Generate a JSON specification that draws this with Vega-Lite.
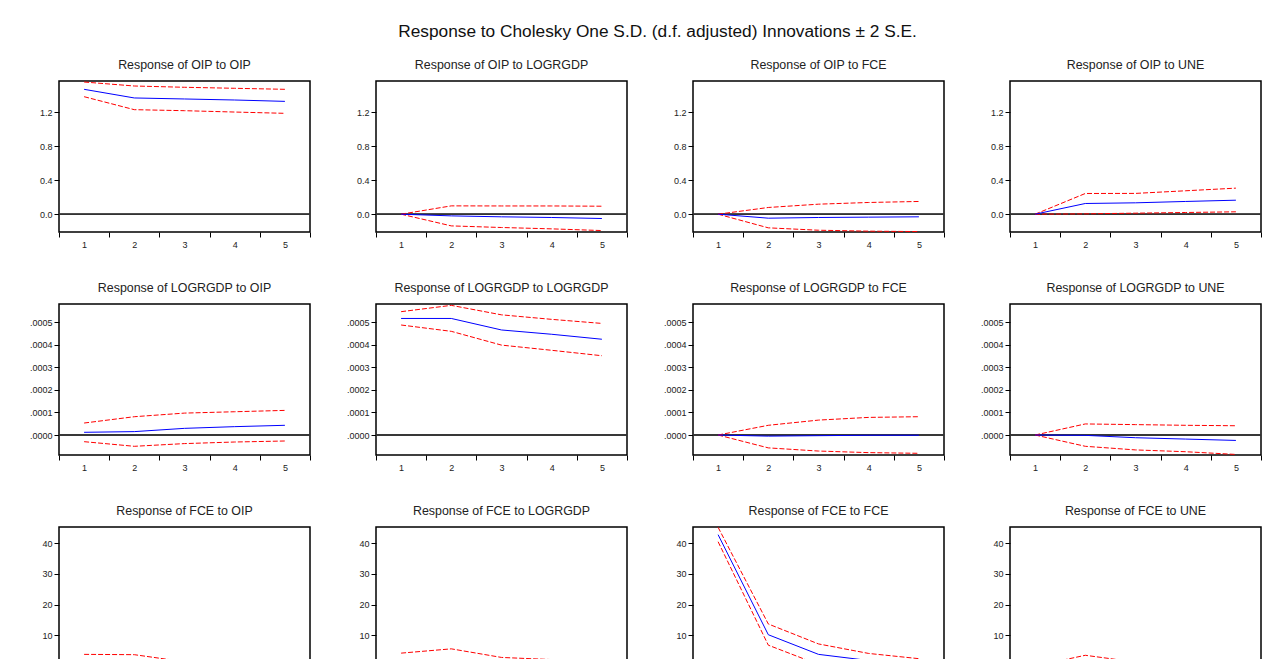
{
  "$schema": "https://vega.github.io/schema/vega-lite/v6.json",
  "background": "#ffffff",
  "padding": {"left": 28, "top": 22, "right": 10, "bottom": 10},
  "title": {"text": "Response to Cholesky One S.D. (d.f. adjusted) Innovations ± 2 S.E.", "fontSize": 17.3, "font": "Liberation Sans", "fontWeight": "normal", "color": "#111111", "offset": 18, "anchor": "middle", "dx": 12},
  "datasets": {
    "irf": [
      {"r": "OIP", "s": "OIP", "h": 1, "v": 1.472, "lo": 1.385, "hi": 1.558},
      {"r": "OIP", "s": "OIP", "h": 2, "v": 1.370, "lo": 1.232, "hi": 1.511},
      {"r": "OIP", "s": "OIP", "h": 3, "v": 1.358, "lo": 1.220, "hi": 1.496},
      {"r": "OIP", "s": "OIP", "h": 4, "v": 1.346, "lo": 1.204, "hi": 1.484},
      {"r": "OIP", "s": "OIP", "h": 5, "v": 1.330, "lo": 1.189, "hi": 1.472},
      {"r": "OIP", "s": "LOGRGDP", "h": 1, "v": 0, "lo": 0, "hi": 0},
      {"r": "OIP", "s": "LOGRGDP", "h": 2, "v": -0.020, "lo": -0.138, "hi": 0.098},
      {"r": "OIP", "s": "LOGRGDP", "h": 3, "v": -0.031, "lo": -0.157, "hi": 0.097},
      {"r": "OIP", "s": "LOGRGDP", "h": 4, "v": -0.039, "lo": -0.173, "hi": 0.097},
      {"r": "OIP", "s": "LOGRGDP", "h": 5, "v": -0.051, "lo": -0.193, "hi": 0.094},
      {"r": "OIP", "s": "FCE", "h": 1, "v": 0, "lo": 0, "hi": 0},
      {"r": "OIP", "s": "FCE", "h": 2, "v": -0.047, "lo": -0.161, "hi": 0.079},
      {"r": "OIP", "s": "FCE", "h": 3, "v": -0.039, "lo": -0.189, "hi": 0.118},
      {"r": "OIP", "s": "FCE", "h": 4, "v": -0.035, "lo": -0.200, "hi": 0.138},
      {"r": "OIP", "s": "FCE", "h": 5, "v": -0.031, "lo": -0.205, "hi": 0.150},
      {"r": "OIP", "s": "UNE", "h": 1, "v": 0, "lo": 0, "hi": 0},
      {"r": "OIP", "s": "UNE", "h": 2, "v": 0.126, "lo": 0.004, "hi": 0.244},
      {"r": "OIP", "s": "UNE", "h": 3, "v": 0.134, "lo": 0.012, "hi": 0.245},
      {"r": "OIP", "s": "UNE", "h": 4, "v": 0.150, "lo": 0.020, "hi": 0.276},
      {"r": "OIP", "s": "UNE", "h": 5, "v": 0.165, "lo": 0.028, "hi": 0.307},
      {"r": "LOGRGDP", "s": "OIP", "h": 1, "v": 0.0000120, "lo": -0.0000295, "hi": 0.0000530},
      {"r": "LOGRGDP", "s": "OIP", "h": 2, "v": 0.0000150, "lo": -0.0000500, "hi": 0.0000810},
      {"r": "LOGRGDP", "s": "OIP", "h": 3, "v": 0.0000295, "lo": -0.0000380, "hi": 0.0000970},
      {"r": "LOGRGDP", "s": "OIP", "h": 4, "v": 0.0000370, "lo": -0.0000310, "hi": 0.0001030},
      {"r": "LOGRGDP", "s": "OIP", "h": 5, "v": 0.0000430, "lo": -0.0000265, "hi": 0.0001090},
      {"r": "LOGRGDP", "s": "LOGRGDP", "h": 1, "v": 0.000516, "lo": 0.000487, "hi": 0.000546},
      {"r": "LOGRGDP", "s": "LOGRGDP", "h": 2, "v": 0.000516, "lo": 0.000459, "hi": 0.000574},
      {"r": "LOGRGDP", "s": "LOGRGDP", "h": 3, "v": 0.000465, "lo": 0.000398, "hi": 0.000532},
      {"r": "LOGRGDP", "s": "LOGRGDP", "h": 4, "v": 0.000446, "lo": 0.000375, "hi": 0.000512},
      {"r": "LOGRGDP", "s": "LOGRGDP", "h": 5, "v": 0.000424, "lo": 0.000351, "hi": 0.000494},
      {"r": "LOGRGDP", "s": "FCE", "h": 1, "v": 0, "lo": 0, "hi": 0},
      {"r": "LOGRGDP", "s": "FCE", "h": 2, "v": -0.000005, "lo": -0.000057, "hi": 0.000043},
      {"r": "LOGRGDP", "s": "FCE", "h": 3, "v": -0.000003, "lo": -0.000071, "hi": 0.000066},
      {"r": "LOGRGDP", "s": "FCE", "h": 4, "v": -0.000001, "lo": -0.000078, "hi": 0.000078},
      {"r": "LOGRGDP", "s": "FCE", "h": 5, "v": -0.000001, "lo": -0.000081, "hi": 0.000081},
      {"r": "LOGRGDP", "s": "UNE", "h": 1, "v": 0, "lo": 0, "hi": 0},
      {"r": "LOGRGDP", "s": "UNE", "h": 2, "v": -0.0000015, "lo": -0.000050, "hi": 0.000049},
      {"r": "LOGRGDP", "s": "UNE", "h": 3, "v": -0.000012, "lo": -0.000066, "hi": 0.000046},
      {"r": "LOGRGDP", "s": "UNE", "h": 4, "v": -0.000018, "lo": -0.000074, "hi": 0.000043},
      {"r": "LOGRGDP", "s": "UNE", "h": 5, "v": -0.000024, "lo": -0.000086, "hi": 0.000041},
      {"r": "FCE", "s": "OIP", "h": 1, "v": 0.4, "lo": -3.0, "hi": 3.8},
      {"r": "FCE", "s": "OIP", "h": 2, "v": 0.3, "lo": -3.1, "hi": 3.7},
      {"r": "FCE", "s": "OIP", "h": 3, "v": -0.2, "lo": -3.0, "hi": 1.4},
      {"r": "FCE", "s": "OIP", "h": 4, "v": -0.3, "lo": -2.8, "hi": 1.3},
      {"r": "FCE", "s": "OIP", "h": 5, "v": -0.3, "lo": -2.6, "hi": 1.2},
      {"r": "FCE", "s": "LOGRGDP", "h": 1, "v": 1.0, "lo": -2.2, "hi": 4.2},
      {"r": "FCE", "s": "LOGRGDP", "h": 2, "v": 1.5, "lo": -2.6, "hi": 5.6},
      {"r": "FCE", "s": "LOGRGDP", "h": 3, "v": 0.3, "lo": -2.1, "hi": 2.8},
      {"r": "FCE", "s": "LOGRGDP", "h": 4, "v": 0.0, "lo": -2.0, "hi": 2.1},
      {"r": "FCE", "s": "LOGRGDP", "h": 5, "v": 0.0, "lo": -1.8, "hi": 1.8},
      {"r": "FCE", "s": "FCE", "h": 1, "v": 42.8, "lo": 40.5, "hi": 45.2},
      {"r": "FCE", "s": "FCE", "h": 2, "v": 10.2, "lo": 6.8, "hi": 13.7},
      {"r": "FCE", "s": "FCE", "h": 3, "v": 3.8, "lo": 0.5, "hi": 7.2},
      {"r": "FCE", "s": "FCE", "h": 4, "v": 1.8, "lo": -0.5, "hi": 4.1},
      {"r": "FCE", "s": "FCE", "h": 5, "v": 1.0, "lo": -0.6, "hi": 2.4},
      {"r": "FCE", "s": "UNE", "h": 1, "v": 0, "lo": 0, "hi": 0},
      {"r": "FCE", "s": "UNE", "h": 2, "v": 0.8, "lo": -2.0, "hi": 3.5},
      {"r": "FCE", "s": "UNE", "h": 3, "v": 0.3, "lo": -1.2, "hi": 1.3},
      {"r": "FCE", "s": "UNE", "h": 4, "v": 0.2, "lo": -1.4, "hi": 1.8},
      {"r": "FCE", "s": "UNE", "h": 5, "v": 0.2, "lo": -1.5, "hi": 2.0}
    ]
  },
  "data": {"name": "irf"},
  "columns": 4,
  "spacing": {"row": 30, "column": 33},
  "concat": [
    {"title": "Response of OIP to OIP", "width": 251, "height": 151,
     "transform": [{"filter": "datum.r == 'OIP' && datum.s == 'OIP'"}],
     "encoding": {"x": {"field": "h", "type": "quantitative", "title": null, "scale": {"domain": [0.5, 5.5], "nice": false, "zero": false}, "axis": {"values": [0.5, 1, 1.5, 2, 2.5, 3, 3.5, 4, 4.5, 5, 5.5], "tickCount": 20, "labelExpr": "datum.value % 1 == 0 ? '' + datum.value : ''", "tickOpacity": {"condition": {"test": "datum.value % 1 == 0", "value": 0}, "value": 1}, "labelPadding": 3}}},
     "layer": [
       {"mark": {"type": "rule", "color": "#333333", "strokeWidth": 1}, "encoding": {"x": {"datum": 0.5}, "x2": {"datum": 5.5}, "y": {"datum": 0, "type": "quantitative", "title": null, "scale": {"domain": [-0.21, 1.57], "nice": false, "zero": false}, "axis": {"values": [0, 0.4, 0.8, 1.2], "tickCount": 20, "labelOverlap": false, "format": ".1f"}}}},
       {"mark": {"type": "line", "color": "#ff0000", "strokeWidth": 1, "strokeDash": [5, 2], "clip": true}, "encoding": {"y": {"field": "hi", "type": "quantitative", "title": null}}},
       {"mark": {"type": "line", "color": "#ff0000", "strokeWidth": 1, "strokeDash": [5, 2], "clip": true}, "encoding": {"y": {"field": "lo", "type": "quantitative", "title": null}}},
       {"mark": {"type": "line", "color": "#0000ff", "strokeWidth": 1, "clip": true}, "encoding": {"y": {"field": "v", "type": "quantitative", "title": null}}}
     ]},
    {"title": "Response of OIP to LOGRGDP", "width": 251, "height": 151,
     "transform": [{"filter": "datum.r == 'OIP' && datum.s == 'LOGRGDP'"}],
     "encoding": {"x": {"field": "h", "type": "quantitative", "title": null, "scale": {"domain": [0.5, 5.5], "nice": false, "zero": false}, "axis": {"values": [0.5, 1, 1.5, 2, 2.5, 3, 3.5, 4, 4.5, 5, 5.5], "tickCount": 20, "labelExpr": "datum.value % 1 == 0 ? '' + datum.value : ''", "tickOpacity": {"condition": {"test": "datum.value % 1 == 0", "value": 0}, "value": 1}, "labelPadding": 3}}},
     "layer": [
       {"mark": {"type": "rule", "color": "#333333", "strokeWidth": 1}, "encoding": {"x": {"datum": 0.5}, "x2": {"datum": 5.5}, "y": {"datum": 0, "type": "quantitative", "title": null, "scale": {"domain": [-0.21, 1.57], "nice": false, "zero": false}, "axis": {"values": [0, 0.4, 0.8, 1.2], "tickCount": 20, "labelOverlap": false, "format": ".1f"}}}},
       {"mark": {"type": "line", "color": "#ff0000", "strokeWidth": 1, "strokeDash": [5, 2], "clip": true}, "encoding": {"y": {"field": "hi", "type": "quantitative", "title": null}}},
       {"mark": {"type": "line", "color": "#ff0000", "strokeWidth": 1, "strokeDash": [5, 2], "clip": true}, "encoding": {"y": {"field": "lo", "type": "quantitative", "title": null}}},
       {"mark": {"type": "line", "color": "#0000ff", "strokeWidth": 1, "clip": true}, "encoding": {"y": {"field": "v", "type": "quantitative", "title": null}}}
     ]},
    {"title": "Response of OIP to FCE", "width": 251, "height": 151,
     "transform": [{"filter": "datum.r == 'OIP' && datum.s == 'FCE'"}],
     "encoding": {"x": {"field": "h", "type": "quantitative", "title": null, "scale": {"domain": [0.5, 5.5], "nice": false, "zero": false}, "axis": {"values": [0.5, 1, 1.5, 2, 2.5, 3, 3.5, 4, 4.5, 5, 5.5], "tickCount": 20, "labelExpr": "datum.value % 1 == 0 ? '' + datum.value : ''", "tickOpacity": {"condition": {"test": "datum.value % 1 == 0", "value": 0}, "value": 1}, "labelPadding": 3}}},
     "layer": [
       {"mark": {"type": "rule", "color": "#333333", "strokeWidth": 1}, "encoding": {"x": {"datum": 0.5}, "x2": {"datum": 5.5}, "y": {"datum": 0, "type": "quantitative", "title": null, "scale": {"domain": [-0.21, 1.57], "nice": false, "zero": false}, "axis": {"values": [0, 0.4, 0.8, 1.2], "tickCount": 20, "labelOverlap": false, "format": ".1f"}}}},
       {"mark": {"type": "line", "color": "#ff0000", "strokeWidth": 1, "strokeDash": [5, 2], "clip": true}, "encoding": {"y": {"field": "hi", "type": "quantitative", "title": null}}},
       {"mark": {"type": "line", "color": "#ff0000", "strokeWidth": 1, "strokeDash": [5, 2], "clip": true}, "encoding": {"y": {"field": "lo", "type": "quantitative", "title": null}}},
       {"mark": {"type": "line", "color": "#0000ff", "strokeWidth": 1, "clip": true}, "encoding": {"y": {"field": "v", "type": "quantitative", "title": null}}}
     ]},
    {"title": "Response of OIP to UNE", "width": 251, "height": 151,
     "transform": [{"filter": "datum.r == 'OIP' && datum.s == 'UNE'"}],
     "encoding": {"x": {"field": "h", "type": "quantitative", "title": null, "scale": {"domain": [0.5, 5.5], "nice": false, "zero": false}, "axis": {"values": [0.5, 1, 1.5, 2, 2.5, 3, 3.5, 4, 4.5, 5, 5.5], "tickCount": 20, "labelExpr": "datum.value % 1 == 0 ? '' + datum.value : ''", "tickOpacity": {"condition": {"test": "datum.value % 1 == 0", "value": 0}, "value": 1}, "labelPadding": 3}}},
     "layer": [
       {"mark": {"type": "rule", "color": "#333333", "strokeWidth": 1}, "encoding": {"x": {"datum": 0.5}, "x2": {"datum": 5.5}, "y": {"datum": 0, "type": "quantitative", "title": null, "scale": {"domain": [-0.21, 1.57], "nice": false, "zero": false}, "axis": {"values": [0, 0.4, 0.8, 1.2], "tickCount": 20, "labelOverlap": false, "format": ".1f"}}}},
       {"mark": {"type": "line", "color": "#ff0000", "strokeWidth": 1, "strokeDash": [5, 2], "clip": true}, "encoding": {"y": {"field": "hi", "type": "quantitative", "title": null}}},
       {"mark": {"type": "line", "color": "#ff0000", "strokeWidth": 1, "strokeDash": [5, 2], "clip": true}, "encoding": {"y": {"field": "lo", "type": "quantitative", "title": null}}},
       {"mark": {"type": "line", "color": "#0000ff", "strokeWidth": 1, "clip": true}, "encoding": {"y": {"field": "v", "type": "quantitative", "title": null}}}
     ]},
    {"title": "Response of LOGRGDP to OIP", "width": 251, "height": 151,
     "transform": [{"filter": "datum.r == 'LOGRGDP' && datum.s == 'OIP'"}],
     "encoding": {"x": {"field": "h", "type": "quantitative", "title": null, "scale": {"domain": [0.5, 5.5], "nice": false, "zero": false}, "axis": {"values": [0.5, 1, 1.5, 2, 2.5, 3, 3.5, 4, 4.5, 5, 5.5], "tickCount": 20, "labelExpr": "datum.value % 1 == 0 ? '' + datum.value : ''", "tickOpacity": {"condition": {"test": "datum.value % 1 == 0", "value": 0}, "value": 1}, "labelPadding": 3}}},
     "layer": [
       {"mark": {"type": "rule", "color": "#333333", "strokeWidth": 1}, "encoding": {"x": {"datum": 0.5}, "x2": {"datum": 5.5}, "y": {"datum": 0, "type": "quantitative", "title": null, "scale": {"domain": [-0.0000885, 0.00058], "nice": false, "zero": false}, "axis": {"values": [0, 0.0001, 0.0002, 0.0003, 0.0004, 0.0005], "tickCount": 20, "labelOverlap": false, "labelExpr": "substring(format(datum.value, '.4f'), 1)"}}}},
       {"mark": {"type": "line", "color": "#ff0000", "strokeWidth": 1, "strokeDash": [5, 2], "clip": true}, "encoding": {"y": {"field": "hi", "type": "quantitative", "title": null}}},
       {"mark": {"type": "line", "color": "#ff0000", "strokeWidth": 1, "strokeDash": [5, 2], "clip": true}, "encoding": {"y": {"field": "lo", "type": "quantitative", "title": null}}},
       {"mark": {"type": "line", "color": "#0000ff", "strokeWidth": 1, "clip": true}, "encoding": {"y": {"field": "v", "type": "quantitative", "title": null}}}
     ]},
    {"title": "Response of LOGRGDP to LOGRGDP", "width": 251, "height": 151,
     "transform": [{"filter": "datum.r == 'LOGRGDP' && datum.s == 'LOGRGDP'"}],
     "encoding": {"x": {"field": "h", "type": "quantitative", "title": null, "scale": {"domain": [0.5, 5.5], "nice": false, "zero": false}, "axis": {"values": [0.5, 1, 1.5, 2, 2.5, 3, 3.5, 4, 4.5, 5, 5.5], "tickCount": 20, "labelExpr": "datum.value % 1 == 0 ? '' + datum.value : ''", "tickOpacity": {"condition": {"test": "datum.value % 1 == 0", "value": 0}, "value": 1}, "labelPadding": 3}}},
     "layer": [
       {"mark": {"type": "rule", "color": "#333333", "strokeWidth": 1}, "encoding": {"x": {"datum": 0.5}, "x2": {"datum": 5.5}, "y": {"datum": 0, "type": "quantitative", "title": null, "scale": {"domain": [-0.0000885, 0.00058], "nice": false, "zero": false}, "axis": {"values": [0, 0.0001, 0.0002, 0.0003, 0.0004, 0.0005], "tickCount": 20, "labelOverlap": false, "labelExpr": "substring(format(datum.value, '.4f'), 1)"}}}},
       {"mark": {"type": "line", "color": "#ff0000", "strokeWidth": 1, "strokeDash": [5, 2], "clip": true}, "encoding": {"y": {"field": "hi", "type": "quantitative", "title": null}}},
       {"mark": {"type": "line", "color": "#ff0000", "strokeWidth": 1, "strokeDash": [5, 2], "clip": true}, "encoding": {"y": {"field": "lo", "type": "quantitative", "title": null}}},
       {"mark": {"type": "line", "color": "#0000ff", "strokeWidth": 1, "clip": true}, "encoding": {"y": {"field": "v", "type": "quantitative", "title": null}}}
     ]},
    {"title": "Response of LOGRGDP to FCE", "width": 251, "height": 151,
     "transform": [{"filter": "datum.r == 'LOGRGDP' && datum.s == 'FCE'"}],
     "encoding": {"x": {"field": "h", "type": "quantitative", "title": null, "scale": {"domain": [0.5, 5.5], "nice": false, "zero": false}, "axis": {"values": [0.5, 1, 1.5, 2, 2.5, 3, 3.5, 4, 4.5, 5, 5.5], "tickCount": 20, "labelExpr": "datum.value % 1 == 0 ? '' + datum.value : ''", "tickOpacity": {"condition": {"test": "datum.value % 1 == 0", "value": 0}, "value": 1}, "labelPadding": 3}}},
     "layer": [
       {"mark": {"type": "rule", "color": "#333333", "strokeWidth": 1}, "encoding": {"x": {"datum": 0.5}, "x2": {"datum": 5.5}, "y": {"datum": 0, "type": "quantitative", "title": null, "scale": {"domain": [-0.0000885, 0.00058], "nice": false, "zero": false}, "axis": {"values": [0, 0.0001, 0.0002, 0.0003, 0.0004, 0.0005], "tickCount": 20, "labelOverlap": false, "labelExpr": "substring(format(datum.value, '.4f'), 1)"}}}},
       {"mark": {"type": "line", "color": "#ff0000", "strokeWidth": 1, "strokeDash": [5, 2], "clip": true}, "encoding": {"y": {"field": "hi", "type": "quantitative", "title": null}}},
       {"mark": {"type": "line", "color": "#ff0000", "strokeWidth": 1, "strokeDash": [5, 2], "clip": true}, "encoding": {"y": {"field": "lo", "type": "quantitative", "title": null}}},
       {"mark": {"type": "line", "color": "#0000ff", "strokeWidth": 1, "clip": true}, "encoding": {"y": {"field": "v", "type": "quantitative", "title": null}}}
     ]},
    {"title": "Response of LOGRGDP to UNE", "width": 251, "height": 151,
     "transform": [{"filter": "datum.r == 'LOGRGDP' && datum.s == 'UNE'"}],
     "encoding": {"x": {"field": "h", "type": "quantitative", "title": null, "scale": {"domain": [0.5, 5.5], "nice": false, "zero": false}, "axis": {"values": [0.5, 1, 1.5, 2, 2.5, 3, 3.5, 4, 4.5, 5, 5.5], "tickCount": 20, "labelExpr": "datum.value % 1 == 0 ? '' + datum.value : ''", "tickOpacity": {"condition": {"test": "datum.value % 1 == 0", "value": 0}, "value": 1}, "labelPadding": 3}}},
     "layer": [
       {"mark": {"type": "rule", "color": "#333333", "strokeWidth": 1}, "encoding": {"x": {"datum": 0.5}, "x2": {"datum": 5.5}, "y": {"datum": 0, "type": "quantitative", "title": null, "scale": {"domain": [-0.0000885, 0.00058], "nice": false, "zero": false}, "axis": {"values": [0, 0.0001, 0.0002, 0.0003, 0.0004, 0.0005], "tickCount": 20, "labelOverlap": false, "labelExpr": "substring(format(datum.value, '.4f'), 1)"}}}},
       {"mark": {"type": "line", "color": "#ff0000", "strokeWidth": 1, "strokeDash": [5, 2], "clip": true}, "encoding": {"y": {"field": "hi", "type": "quantitative", "title": null}}},
       {"mark": {"type": "line", "color": "#ff0000", "strokeWidth": 1, "strokeDash": [5, 2], "clip": true}, "encoding": {"y": {"field": "lo", "type": "quantitative", "title": null}}},
       {"mark": {"type": "line", "color": "#0000ff", "strokeWidth": 1, "clip": true}, "encoding": {"y": {"field": "v", "type": "quantitative", "title": null}}}
     ]},
    {"title": "Response of FCE to OIP", "width": 251, "height": 151,
     "transform": [{"filter": "datum.r == 'FCE' && datum.s == 'OIP'"}],
     "encoding": {"x": {"field": "h", "type": "quantitative", "title": null, "scale": {"domain": [0.5, 5.5], "nice": false, "zero": false}, "axis": {"values": [0.5, 1, 1.5, 2, 2.5, 3, 3.5, 4, 4.5, 5, 5.5], "tickCount": 20, "labelExpr": "datum.value % 1 == 0 ? '' + datum.value : ''", "tickOpacity": {"condition": {"test": "datum.value % 1 == 0", "value": 0}, "value": 1}, "labelPadding": 3}}},
     "layer": [
       {"mark": {"type": "rule", "color": "#333333", "strokeWidth": 1}, "encoding": {"x": {"datum": 0.5}, "x2": {"datum": 5.5}, "y": {"datum": 0, "type": "quantitative", "title": null, "scale": {"domain": [-3.9, 45.3], "nice": false, "zero": false}, "axis": {"values": [0, 10, 20, 30, 40], "tickCount": 20, "labelOverlap": false, "format": "d"}}}},
       {"mark": {"type": "line", "color": "#ff0000", "strokeWidth": 1, "strokeDash": [5, 2], "clip": true}, "encoding": {"y": {"field": "hi", "type": "quantitative", "title": null}}},
       {"mark": {"type": "line", "color": "#ff0000", "strokeWidth": 1, "strokeDash": [5, 2], "clip": true}, "encoding": {"y": {"field": "lo", "type": "quantitative", "title": null}}},
       {"mark": {"type": "line", "color": "#0000ff", "strokeWidth": 1, "clip": true}, "encoding": {"y": {"field": "v", "type": "quantitative", "title": null}}}
     ]},
    {"title": "Response of FCE to LOGRGDP", "width": 251, "height": 151,
     "transform": [{"filter": "datum.r == 'FCE' && datum.s == 'LOGRGDP'"}],
     "encoding": {"x": {"field": "h", "type": "quantitative", "title": null, "scale": {"domain": [0.5, 5.5], "nice": false, "zero": false}, "axis": {"values": [0.5, 1, 1.5, 2, 2.5, 3, 3.5, 4, 4.5, 5, 5.5], "tickCount": 20, "labelExpr": "datum.value % 1 == 0 ? '' + datum.value : ''", "tickOpacity": {"condition": {"test": "datum.value % 1 == 0", "value": 0}, "value": 1}, "labelPadding": 3}}},
     "layer": [
       {"mark": {"type": "rule", "color": "#333333", "strokeWidth": 1}, "encoding": {"x": {"datum": 0.5}, "x2": {"datum": 5.5}, "y": {"datum": 0, "type": "quantitative", "title": null, "scale": {"domain": [-3.9, 45.3], "nice": false, "zero": false}, "axis": {"values": [0, 10, 20, 30, 40], "tickCount": 20, "labelOverlap": false, "format": "d"}}}},
       {"mark": {"type": "line", "color": "#ff0000", "strokeWidth": 1, "strokeDash": [5, 2], "clip": true}, "encoding": {"y": {"field": "hi", "type": "quantitative", "title": null}}},
       {"mark": {"type": "line", "color": "#ff0000", "strokeWidth": 1, "strokeDash": [5, 2], "clip": true}, "encoding": {"y": {"field": "lo", "type": "quantitative", "title": null}}},
       {"mark": {"type": "line", "color": "#0000ff", "strokeWidth": 1, "clip": true}, "encoding": {"y": {"field": "v", "type": "quantitative", "title": null}}}
     ]},
    {"title": "Response of FCE to FCE", "width": 251, "height": 151,
     "transform": [{"filter": "datum.r == 'FCE' && datum.s == 'FCE'"}],
     "encoding": {"x": {"field": "h", "type": "quantitative", "title": null, "scale": {"domain": [0.5, 5.5], "nice": false, "zero": false}, "axis": {"values": [0.5, 1, 1.5, 2, 2.5, 3, 3.5, 4, 4.5, 5, 5.5], "tickCount": 20, "labelExpr": "datum.value % 1 == 0 ? '' + datum.value : ''", "tickOpacity": {"condition": {"test": "datum.value % 1 == 0", "value": 0}, "value": 1}, "labelPadding": 3}}},
     "layer": [
       {"mark": {"type": "rule", "color": "#333333", "strokeWidth": 1}, "encoding": {"x": {"datum": 0.5}, "x2": {"datum": 5.5}, "y": {"datum": 0, "type": "quantitative", "title": null, "scale": {"domain": [-3.9, 45.3], "nice": false, "zero": false}, "axis": {"values": [0, 10, 20, 30, 40], "tickCount": 20, "labelOverlap": false, "format": "d"}}}},
       {"mark": {"type": "line", "color": "#ff0000", "strokeWidth": 1, "strokeDash": [5, 2], "clip": true}, "encoding": {"y": {"field": "hi", "type": "quantitative", "title": null}}},
       {"mark": {"type": "line", "color": "#ff0000", "strokeWidth": 1, "strokeDash": [5, 2], "clip": true}, "encoding": {"y": {"field": "lo", "type": "quantitative", "title": null}}},
       {"mark": {"type": "line", "color": "#0000ff", "strokeWidth": 1, "clip": true}, "encoding": {"y": {"field": "v", "type": "quantitative", "title": null}}}
     ]},
    {"title": "Response of FCE to UNE", "width": 251, "height": 151,
     "transform": [{"filter": "datum.r == 'FCE' && datum.s == 'UNE'"}],
     "encoding": {"x": {"field": "h", "type": "quantitative", "title": null, "scale": {"domain": [0.5, 5.5], "nice": false, "zero": false}, "axis": {"values": [0.5, 1, 1.5, 2, 2.5, 3, 3.5, 4, 4.5, 5, 5.5], "tickCount": 20, "labelExpr": "datum.value % 1 == 0 ? '' + datum.value : ''", "tickOpacity": {"condition": {"test": "datum.value % 1 == 0", "value": 0}, "value": 1}, "labelPadding": 3}}},
     "layer": [
       {"mark": {"type": "rule", "color": "#333333", "strokeWidth": 1}, "encoding": {"x": {"datum": 0.5}, "x2": {"datum": 5.5}, "y": {"datum": 0, "type": "quantitative", "title": null, "scale": {"domain": [-3.9, 45.3], "nice": false, "zero": false}, "axis": {"values": [0, 10, 20, 30, 40], "tickCount": 20, "labelOverlap": false, "format": "d"}}}},
       {"mark": {"type": "line", "color": "#ff0000", "strokeWidth": 1, "strokeDash": [5, 2], "clip": true}, "encoding": {"y": {"field": "hi", "type": "quantitative", "title": null}}},
       {"mark": {"type": "line", "color": "#ff0000", "strokeWidth": 1, "strokeDash": [5, 2], "clip": true}, "encoding": {"y": {"field": "lo", "type": "quantitative", "title": null}}},
       {"mark": {"type": "line", "color": "#0000ff", "strokeWidth": 1, "clip": true}, "encoding": {"y": {"field": "v", "type": "quantitative", "title": null}}}
     ]}
  ],
  "config": {
    "font": "Liberation Sans",
    "view": {"stroke": "#000000", "strokeWidth": 1.5},
    "axis": {"domain": false, "grid": false, "labelFont": "Liberation Sans", "labelFontSize": 9, "labelColor": "#222222", "tickColor": "#000000", "tickSize": 5, "tickWidth": 1, "labelPadding": 2, "labelOverlap": false},
    "title": {"font": "Liberation Sans", "fontSize": 12.4, "fontWeight": "normal", "color": "#222222", "offset": 10}
  }
}
